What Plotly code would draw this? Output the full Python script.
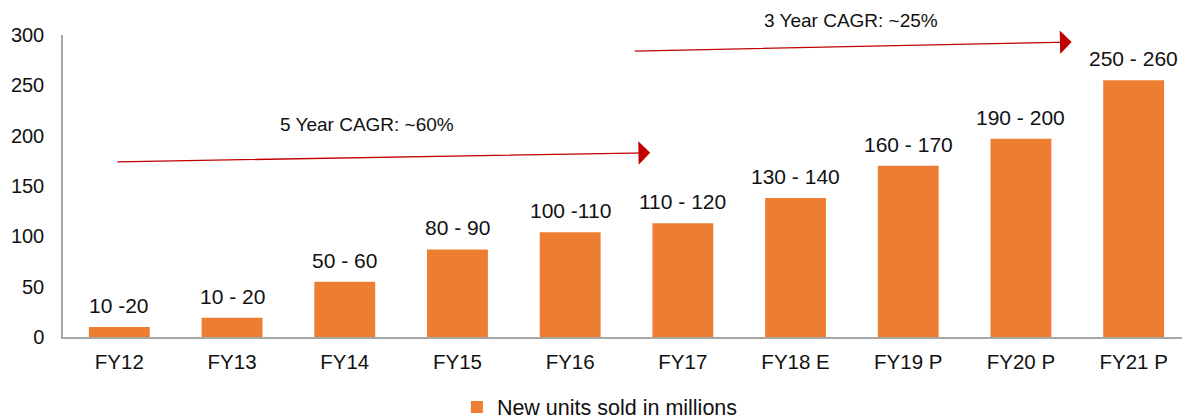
import plotly.graph_objects as go

categories = ["FY12", "FY13", "FY14", "FY15", "FY16", "FY17", "FY18 E", "FY19 P", "FY20 P", "FY21 P"]
values = [10, 19, 55, 87, 104, 113, 138, 170, 197, 255]
range_labels = ["10 -20", "10 - 20", "50 - 60", "80 - 90", "100 -110", "110 - 120",
                "130 - 140", "160 - 170", "190 - 200", "250 - 260"]
y_ticks = [0, 50, 100, 150, 200, 250, 300]
series_name = "New units sold in millions"

# CAGR arrows (category-index / value coordinates) and their labels
cagr5 = dict(x0=-0.03, y0=174, x1=4.71, y1=183, label="5 Year CAGR: ~60%", lx=2.2, ly=211)
cagr3 = dict(x0=4.56, y0=284, x1=8.45, y1=293, label="3 Year CAGR: ~25%", lx=6.49, ly=314)

ORANGE = "#ED7D31"
RED = "#C00000"
FONT = "Liberation Sans, Arial, sans-serif"
TXT = "#111111"

Y_MAX = 300

fig = go.Figure()
fig.add_trace(go.Bar(
    x=list(range(len(categories))), y=values, name=series_name,
    marker=dict(color=ORANGE, line=dict(width=0)),
    showlegend=True,
))

annotations = []
for i, (v, lab) in enumerate(zip(values, range_labels)):
    annotations.append(dict(x=i, y=v, xref="x", yref="y", text=lab, showarrow=False,
                            yanchor="bottom", yshift=8,
                            font=dict(family=FONT, size=21, color=TXT)))

for c in (cagr5, cagr3):
    annotations.append(dict(x=c["x1"], y=c["y1"], ax=c["x0"], ay=c["y0"],
                            xref="x", yref="y", axref="x", ayref="y", text="",
                            showarrow=True, arrowhead=1, arrowsize=3, arrowwidth=1.3,
                            arrowcolor=RED, standoff=0, startstandoff=0))
    annotations.append(dict(x=c["lx"], y=c["ly"] / Y_MAX, xref="x", yref="paper",
                            text=c["label"], showarrow=False, yanchor="middle",
                            font=dict(family=FONT, size=19, color=TXT)))

# the page body has an 8px default margin, so the figure is 8px smaller on each axis
fig.update_layout(
    width=1182, height=411,
    margin=dict(l=55, r=0, t=27, b=82),
    plot_bgcolor="white", paper_bgcolor="white",
    font=dict(family=FONT, size=20, color=TXT),
    bargap=0.46,
    annotations=annotations,
    legend=dict(orientation="h", x=0.3495, xanchor="left",
                y=0.029, yref="container", yanchor="middle",
                font=dict(family=FONT, size=21.5, color=TXT),
                itemwidth=30, tracegroupgap=0),
    xaxis=dict(
        tickmode="array", tickvals=list(range(len(categories))), ticktext=categories,
        range=[-0.5, len(categories) - 0.5],
        showline=True, linecolor="#A6A6A6", linewidth=2,
        ticks="outside", ticklen=5, tickcolor="rgba(0,0,0,0)",
        showgrid=False, zeroline=False, automargin=False,
        tickfont=dict(family=FONT, size=20.5, color=TXT),
    ),
    yaxis=dict(
        range=[0, Y_MAX], tickvals=y_ticks,
        showline=True, linecolor="#A6A6A6", linewidth=1.5,
        ticks="outside", ticklen=13, tickcolor="rgba(0,0,0,0)",
        showgrid=False, zeroline=False, automargin=False,
        tickfont=dict(family=FONT, size=20, color=TXT),
    ),
)

fig.write_html("out.html")
